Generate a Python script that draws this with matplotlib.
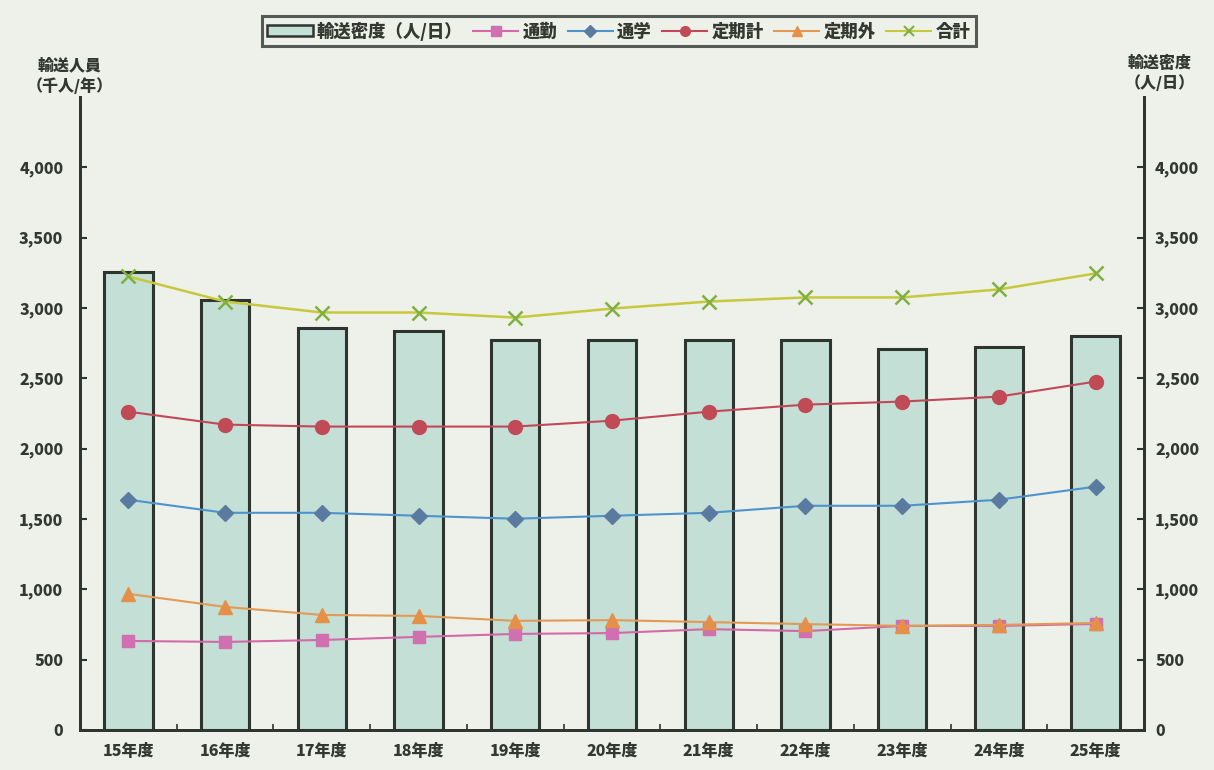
import matplotlib
matplotlib.use('Agg')
import matplotlib.pyplot as plt
from matplotlib.ticker import FuncFormatter, FixedLocator
from matplotlib.patches import Patch
from matplotlib.lines import Line2D
import numpy as np

plt.rcParams['font.family'] = ['Noto Sans CJK JP', 'DejaVu Sans']

years = ['15年度', '16年度', '17年度', '18年度', '19年度', '20年度',
         '21年度', '22年度', '23年度', '24年度', '25年度']
density = [3253, 3060, 2861, 2840, 2776, 2776, 2776, 2776, 2712, 2726, 2804]
commute = [633, 626, 640, 662, 683, 689, 717, 703, 740, 740, 754]
school = [1637, 1544, 1544, 1523, 1502, 1523, 1544, 1594, 1594, 1637, 1730]
teiki = [2263, 2171, 2157, 2157, 2157, 2199, 2263, 2313, 2335, 2370, 2477]
teikigai = [968, 875, 818, 811, 776, 781, 767, 753, 740, 747, 761]
total = [3224, 3046, 2968, 2968, 2932, 2996, 3046, 3075, 3075, 3132, 3246]
yticks = [0, 500, 1000, 1500, 2000, 2500, 3000, 3500, 4000]

bg = '#edf1ea'
txt = '#333833'
W = 'heavy'
fig = plt.figure(figsize=(12.14, 7.70), dpi=100, facecolor=bg)
ax = fig.add_axes([80/1214, 40/770, (1144-80)/1214, (730-97)/770])
ax.set_facecolor(bg)
ax2 = ax.twinx()

x = np.arange(len(years))
ax.bar(x, density, width=0.5, color='#c3dfd6', edgecolor='#2e3430', linewidth=2.2, zorder=2)

c_comm = '#d468a8'
c_sch = '#4d93cc'
c_tei = '#c04858'
c_gai = '#e39a55'
c_tot = '#c8c83c'
ax.plot(x, commute, color=c_comm, lw=1.5, marker='s', ms=9, mfc='#d070b0', mec='#d070b0', zorder=4)
ax.plot(x, school, color=c_sch, lw=1.5, marker='D', ms=8, mfc='#5a7aa0', mec='#5a7aa0', zorder=4)
ax.plot(x, teiki, color=c_tei, lw=1.5, marker='o', ms=10, mfc='#c04a55', mec='#c04a55', zorder=4)
ax.plot(x, teikigai, color=c_gai, lw=1.5, marker='^', ms=10, mfc='#e59048', mec='#e59048', zorder=4)
ax.plot(x, total, color=c_tot, lw=1.8, marker='x', ms=10, mew=1.8, mec='#7fb040', zorder=4)

for a in (ax, ax2):
    a.set_ylim(0, 4500)
    a.yaxis.set_major_locator(FixedLocator(yticks))
    a.yaxis.set_major_formatter(FuncFormatter(lambda v, p: f'{int(v):,}'))
    a.spines['top'].set_visible(False)
    for s in ('left', 'right', 'bottom'):
        a.spines[s].set_color('#2e3430')
        a.spines[s].set_linewidth(2)
ax.set_xlim(-0.5, len(years) - 0.5)
ax.tick_params(axis='y', direction='in', length=5, width=1.5, color='#2e3430',
               labelsize=11.5, labelcolor=txt, pad=12)
ax2.tick_params(axis='y', direction='in', length=5, width=1.5, color='#2e3430',
                labelsize=11.5, labelcolor=txt, pad=8)
for lab in ax.get_yticklabels() + ax2.get_yticklabels():
    lab.set_fontweight(W)

ax.set_xticks(x)
ax.set_xticklabels(years, fontsize=11.5, fontweight=W, color=txt)
ax.tick_params(axis='x', length=0, pad=9)
ax.set_xticks(np.arange(0.5, len(years) - 1, 1), minor=True)
ax.tick_params(axis='x', which='minor', direction='in', length=4, width=1.2, color='#2e3430')

fig.text(70/1214, 1 - 76/770, '輸送人員\n（千人/年）', ha='center', va='center',
         fontsize=11.5, fontweight=W, color=txt, linespacing=1.3)
fig.text(1160/1214, 1 - 73/770, '輸送密度\n（人/日）', ha='center', va='center',
         fontsize=11.5, fontweight=W, color=txt, linespacing=1.3)

handles = [
    Patch(facecolor='#c3dfd6', edgecolor='#2e3430', linewidth=1.8),
    Line2D([], [], color=c_comm, marker='s', ms=7, mfc='#d070b0', mec='#d070b0', lw=1.5),
    Line2D([], [], color=c_sch, marker='D', ms=6, mfc='#5a7aa0', mec='#5a7aa0', lw=1.5),
    Line2D([], [], color=c_tei, marker='o', ms=7, mfc='#c04a55', mec='#c04a55', lw=1.5),
    Line2D([], [], color=c_gai, marker='^', ms=7, mfc='#e59048', mec='#e59048', lw=1.5),
    Line2D([], [], color=c_tot, marker='x', ms=7, mew=1.5, mec='#7fb040', lw=1.5),
]
labels = ['輸送密度（人/日）', '通勤', '通学', '定期計', '定期外', '合計']
leg = fig.legend(handles, labels, loc='center', bbox_to_anchor=(619/1214, 1 - 31/770),
                 ncol=6, frameon=True, fontsize=12.5, handlelength=2.6, handleheight=0.6,
                 columnspacing=0.6, handletextpad=0.25, borderpad=0.3, fancybox=False,
                 edgecolor='#2e3430', facecolor=bg)
leg.get_frame().set_linewidth(2.2)
for t in leg.get_texts():
    t.set_fontweight(W)
    t.set_color(txt)

fig.savefig('out.png', dpi=100, facecolor=bg)
